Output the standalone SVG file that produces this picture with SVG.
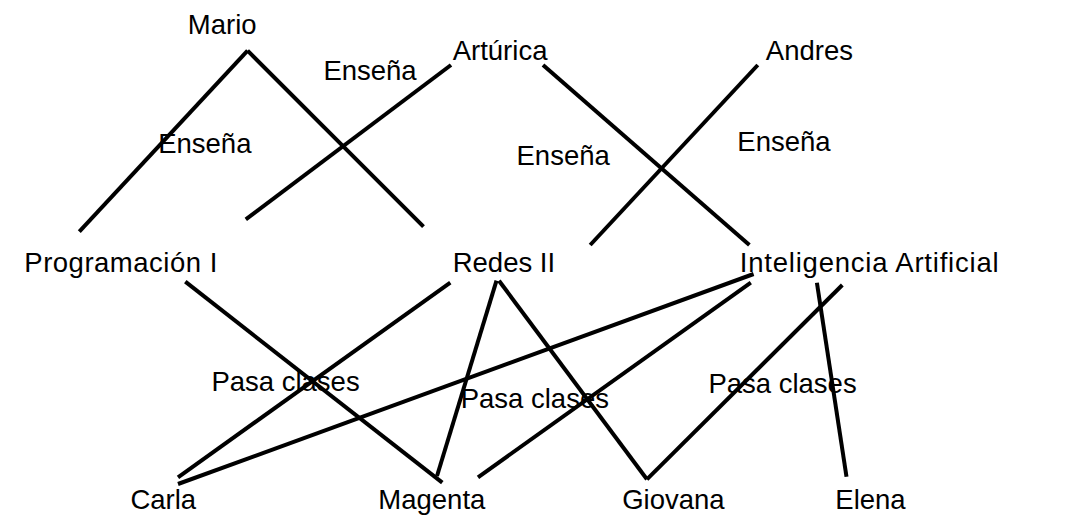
<svg xmlns="http://www.w3.org/2000/svg" width="1090" height="525" viewBox="0 0 1090 525">
<style>
text{font-family:"Liberation Sans",Arial,sans-serif;font-size:27.5px;fill:#000}
.e line{stroke:#000;stroke-width:4;stroke-linecap:butt}
</style>
<rect width="1090" height="525" fill="#fff"/>
<g id="connectors" class="e">
<line x1="247.6" y1="50.7" x2="79.3" y2="231.7"/>
<line x1="247.6" y1="50.7" x2="423.5" y2="226.7"/>
<line x1="451" y1="65" x2="245.8" y2="219.3"/>
<line x1="543" y1="65" x2="749.4" y2="245"/>
<line x1="757.8" y1="65" x2="590.2" y2="245"/>
<line x1="185.3" y1="281.7" x2="442.3" y2="482.7"/>
<line x1="450.3" y1="282.7" x2="178" y2="477.3"/>
<line x1="178" y1="484" x2="753.6" y2="274"/>
<line x1="496.5" y1="280.7" x2="437" y2="476"/>
<line x1="499" y1="280.7" x2="646.9" y2="479.3"/>
<line x1="750.8" y1="282.7" x2="478" y2="477.3"/>
<line x1="842.3" y1="285" x2="646.9" y2="479.3"/>
<line x1="816.9" y1="282.7" x2="846.5" y2="476.7"/>
<text x="323.4" y="80">Enseña</text>
<text x="158.2" y="152.7">Enseña</text>
<text x="516.5" y="165">Enseña</text>
<text x="737.3" y="150.7">Enseña</text>
<text x="211.4" y="390.7">Pasa clases</text>
<text x="460.7" y="408.3">Pasa clases</text>
<text x="708.4" y="393.3">Pasa clases</text>
</g>
<g id="mario"><text x="187.8" y="34">Mario</text></g>
<g id="arturica"><text x="452.7" y="60">Artúrica</text></g>
<g id="andres"><text x="765.8" y="60">Andres</text></g>
<g id="programacion1"><text x="24.3" y="272" textLength="193" lengthAdjust="spacing">Programación I</text></g>
<g id="redes2"><text x="452.7" y="272">Redes II</text></g>
<g id="ia"><text x="739.7" y="272" textLength="259" lengthAdjust="spacing">Inteligencia Artificial</text></g>
<g id="carla"><text x="130.4" y="509">Carla</text></g>
<g id="magenta"><text x="378.3" y="509">Magenta</text></g>
<g id="giovana"><text x="622.2" y="509">Giovana</text></g>
<g id="elena"><text x="835.3" y="509">Elena</text></g>
</svg>
